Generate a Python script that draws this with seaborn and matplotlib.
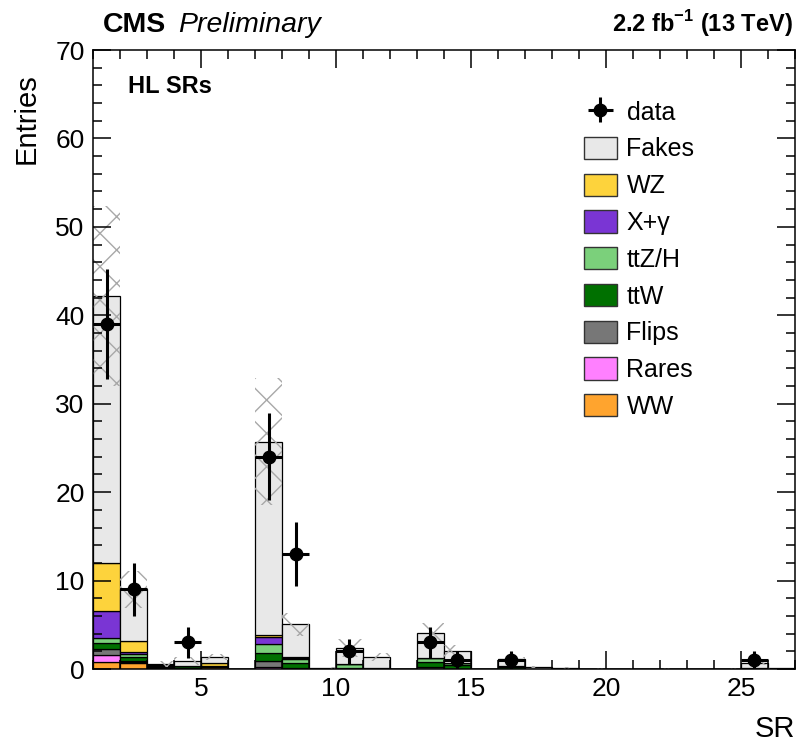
import numpy as np
import pandas as pd
import matplotlib
matplotlib.use("Agg")
import matplotlib.pyplot as plt
from matplotlib.patches import Patch
from matplotlib.ticker import MultipleLocator, FixedLocator
import seaborn as sns

# ---- signal-region yields (SR 1..26) ----
signal_regions = np.arange(1, 27)

fakes = [30.20, 5.80, 0.15, 0.60, 0.75, 0.00, 21.90, 3.65, 0.10, 1.80, 1.25, 0.00, 2.85,
         1.35, 0.00, 0.80, 0.15, 0.08, 0.02, 0.02, 0.00, 0.02, 0.00, 0.02, 0.55, 0.10]
wz = [5.40, 1.25, 0.10, 0.00, 0.27, 0.00, 0.20, 0.15, 0.00, 0.00, 0.00, 0.00, 0.05,
      0.00, 0.00, 0.00, 0.00, 0.00, 0.00, 0.00, 0.00, 0.00, 0.00, 0.00, 0.00, 0.00]
x_gamma = [3.00, 0.30, 0.00, 0.00, 0.00, 0.00, 0.80, 0.10, 0.00, 0.00, 0.00, 0.00, 0.00,
           0.00, 0.00, 0.00, 0.00, 0.00, 0.00, 0.00, 0.00, 0.00, 0.00, 0.00, 0.00, 0.00]
ttzh = [0.60, 0.25, 0.00, 0.05, 0.05, 0.00, 1.00, 0.50, 0.00, 0.40, 0.05, 0.00, 0.45,
        0.20, 0.00, 0.05, 0.00, 0.00, 0.00, 0.00, 0.00, 0.00, 0.00, 0.00, 0.00, 0.00]
ttw = [0.64, 0.45, 0.10, 0.20, 0.08, 0.00, 0.95, 0.55, 0.00, 0.10, 0.05, 0.00, 0.55,
       0.45, 0.00, 0.20, 0.05, 0.02, 0.00, 0.00, 0.00, 0.00, 0.00, 0.00, 0.10, 0.00]
flips = [0.68, 0.15, 0.00, 0.10, 0.00, 0.00, 0.65, 0.10, 0.05, 0.05, 0.00, 0.00, 0.20,
         0.05, 0.00, 0.05, 0.00, 0.00, 0.00, 0.00, 0.00, 0.00, 0.00, 0.00, 0.05, 0.00]
rares = [0.83, 0.15, 0.05, 0.00, 0.00, 0.00, 0.15, 0.00, 0.00, 0.00, 0.00, 0.00, 0.00,
         0.00, 0.00, 0.00, 0.00, 0.00, 0.00, 0.00, 0.00, 0.00, 0.00, 0.00, 0.00, 0.00]
ww = [0.80, 0.65, 0.15, 0.00, 0.25, 0.00, 0.05, 0.00, 0.00, 0.00, 0.00, 0.00, 0.00,
      0.00, 0.00, 0.00, 0.00, 0.00, 0.00, 0.00, 0.00, 0.00, 0.00, 0.00, 0.00, 0.00]

# total background uncertainty per SR
bkg_unc = [10.2, 2.1, 0.30, 0.45, 0.35, 0.00, 7.2, 1.3, 0.10, 1.0, 0.5, 0.00, 1.1,
           0.65, 0.00, 0.30, 0.15, 0.10, 0.05, 0.05, 0.00, 0.05, 0.00, 0.05, 0.30, 0.15]

# observed events
data_sr = [1, 2, 4, 7, 8, 10, 13, 14, 16, 25]
data_counts = [39, 9, 3, 24, 13, 2, 3, 1, 1, 1]

# legend order (top of stack first)
processes = ["Fakes", "WZ", "X+γ", "ttZ/H", "ttW", "Flips", "Rares", "WW"]
yields = {"Fakes": fakes, "WZ": wz, "X+γ": x_gamma, "ttZ/H": ttzh,
          "ttW": ttw, "Flips": flips, "Rares": rares, "WW": ww}
colors = {"Fakes": "#e8e8e8", "WZ": "#fdd33c", "X+γ": "#7a35d4", "ttZ/H": "#7bd07b",
          "ttW": "#007000", "Flips": "#777777", "Rares": "#ff80ff", "WW": "#ffa42e"}

df = pd.DataFrame([
    {"sr": sr + 0.5, "process": p, "weight": w}
    for p in processes for sr, w in zip(signal_regions, yields[p])
])

sns.set_style("ticks")
plt.rcParams["font.family"] = ["Liberation Sans", "DejaVu Sans"]
plt.rcParams["mathtext.fontset"] = "custom"
plt.rcParams["mathtext.rm"] = "Liberation Sans"
plt.rcParams["mathtext.bf"] = "Liberation Sans:bold"
plt.rcParams["hatch.linewidth"] = 1.0
for key in ("text.color", "axes.labelcolor", "xtick.color", "ytick.color", "axes.edgecolor"):
    plt.rcParams[key] = "black"

fig = plt.figure(figsize=(8, 7.42), dpi=100)
ax = fig.add_axes([0.11625, 0.09838, 0.8775, 0.83423])

sns.histplot(data=df, x="sr", weights="weight", hue="process", hue_order=processes,
             multiple="stack", binwidth=1, binrange=(1, 27), palette=colors, alpha=1.0,
             edgecolor="black", linewidth=0.9, legend=False, ax=ax)

# background uncertainty band
total = np.sum([np.array(yields[p]) for p in processes], axis=0)
unc = np.array(bkg_unc)
ax.bar(signal_regions + 0.5, 2 * unc, bottom=total - unc, width=1.0, fill=False,
       hatch="x", edgecolor="#a8a8a8", linewidth=0, zorder=1.5)

# observed data with Poisson errors
counts = np.array(data_counts, dtype=float)
data_handle = ax.errorbar(np.array(data_sr) + 0.5, counts, yerr=np.sqrt(counts), xerr=0.5,
                          fmt="o", color="black", markersize=9, elinewidth=2.2,
                          capsize=0, zorder=5)

ax.set_xlim(1, 27)
ax.set_ylim(0, 70)
ax.xaxis.set_major_locator(FixedLocator([5, 10, 15, 20, 25]))
ax.xaxis.set_minor_locator(MultipleLocator(1))
ax.yaxis.set_major_locator(MultipleLocator(10))
ax.yaxis.set_minor_locator(MultipleLocator(2))
ax.tick_params(which="both", direction="in", top=True, right=True, width=1.1,
               labelsize=19, color="black", labelcolor="black")
ax.tick_params(which="major", length=13)
ax.tick_params(which="minor", length=6.5)
ax.tick_params(axis="x", pad=6)
ax.tick_params(axis="y", pad=6)
ax.set_axisbelow(False)
for s in ax.spines.values():
    s.set_linewidth(1.1)
    s.set_color("black")

ax.set_xlabel("SR", fontsize=21, loc="right")
ax.set_ylabel("Entries", fontsize=21, loc="top")
ax.xaxis.set_label_coords(1.0, -0.075)
ax.yaxis.set_label_coords(-0.075, 0.962)

# header
fig.text(103 / 800, 1 - 32 / 742, "CMS", fontsize=20.5, fontweight="bold", va="baseline")
fig.text(178 / 800, 1 - 32 / 742, "Preliminary", fontsize=20.5, fontstyle="italic", va="baseline")
fig.text(793 / 800, 1 - 32 / 742, r"2.2 fb$^{\mathbf{-1}}$ (13 TeV)", fontsize=17,
         fontweight="bold", ha="right", va="baseline")
ax.text(128 / 800, 1 - 93 / 742, "HL SRs", transform=fig.transFigure, fontsize=17,
        fontweight="bold", va="baseline")

handles = [data_handle] + [Patch(facecolor=colors[p], edgecolor="#333333", linewidth=1.0)
                           for p in processes]
labels = ["data"] + processes
ax.legend(handles, labels, loc="upper left", bbox_to_anchor=(584 / 800, 1 - 100 / 742),
          bbox_transform=fig.transFigure, frameon=False, fontsize=18,
          handlelength=1.3, handleheight=1.0, labelspacing=0.48, handletextpad=0.4,
          borderpad=0, borderaxespad=0)

fig.savefig("out.png", dpi=100)
